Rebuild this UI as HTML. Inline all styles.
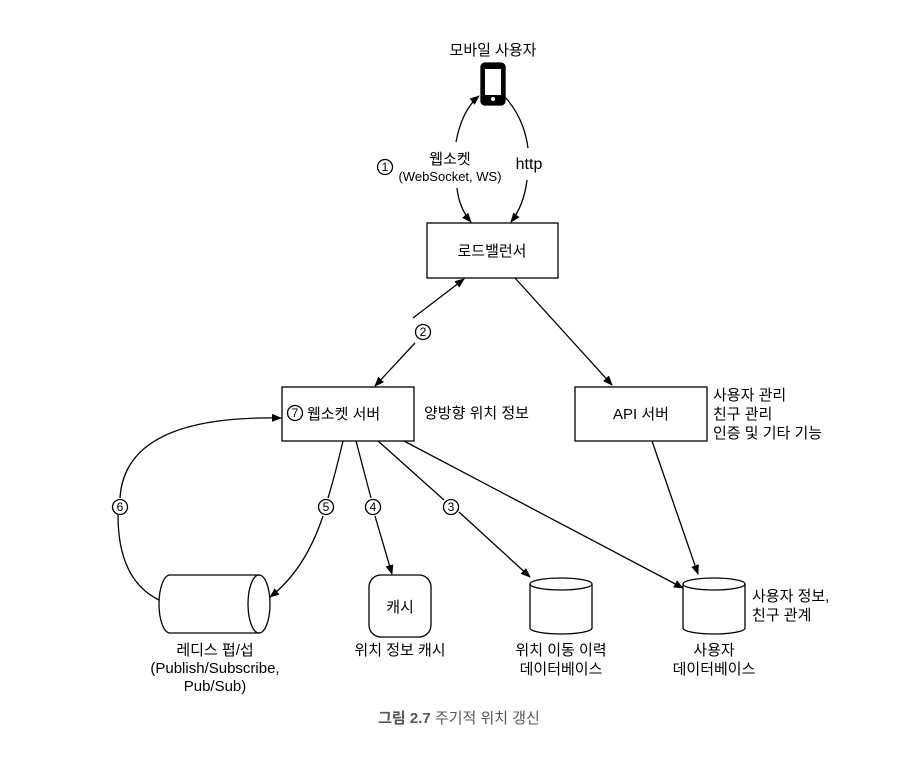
<!DOCTYPE html>
<html><head><meta charset="utf-8"><style>
body{margin:0;background:#fff}
svg text{font-family:"Liberation Sans","Noto Sans CJK KR",sans-serif;font-size:15px;fill:#000}
</style></head><body>
<svg width="918" height="754" viewBox="0 0 918 754" xmlns="http://www.w3.org/2000/svg">
<defs><marker id="a" markerWidth="10" markerHeight="10" refX="9" refY="5" orient="auto" markerUnits="userSpaceOnUse"><path d="M0,1 L10,5 L0,9 z" fill="#000"/></marker></defs>
<g fill="none" stroke="#000" stroke-width="1.3">
<rect x="481" y="63" width="24" height="42" rx="4" fill="#000"/>
<rect x="485" y="69" width="16" height="26" fill="#fff" stroke="none"/>
<circle cx="493" cy="99" r="2" fill="#fff" stroke="none"/>
<rect x="427" y="223" width="131" height="55"/>
<rect x="282" y="387" width="132" height="54"/>
<rect x="575" y="387" width="132" height="54"/>
<rect x="369" y="575" width="62" height="62" rx="12"/>
<path d="M170,575 L259,575 M170,633 L259,633 M170,575 A11,29 0 0 0 170,633"/>
<ellipse cx="259" cy="604" rx="11" ry="29"/>
<path d="M530,584 L530,628 A31,6 0 0 0 592,628 L592,584"/><ellipse cx="561" cy="584" rx="31" ry="6"/>
<path d="M683,584 L683,628 A31,6 0 0 0 745,628 L745,584"/><ellipse cx="714" cy="584" rx="31" ry="6"/>
<path d="M456,142 Q462,110 479,96" marker-end="url(#a)"/>
<path d="M457,188 Q459,208 471,222" marker-end="url(#a)"/>
<path d="M505,97 Q524,118 528,148"/>
<path d="M527,180 Q524,205 511,222" marker-end="url(#a)"/>
<path d="M413,318 L464,279" marker-end="url(#a)"/>
<path d="M415,343 L375,386" marker-end="url(#a)"/>
<path d="M515,278 L612,385" marker-end="url(#a)"/>
<path d="M159,600 Q118,580 118,515"/>
<path d="M120,498 Q125,415 281,418" marker-end="url(#a)"/>
<path d="M343,441 Q335,475 328,498"/>
<path d="M323,516 Q305,570 270,597" marker-end="url(#a)"/>
<path d="M356,441 L371,498"/>
<path d="M375,516 L392,574" marker-end="url(#a)"/>
<path d="M378,441 L444,500"/>
<path d="M459,512 L530,577" marker-end="url(#a)"/>
<path d="M404,441 L683,588" marker-end="url(#a)"/>
<path d="M652,441 L698,574" marker-end="url(#a)"/>
<circle cx="385" cy="167" r="7.5"/>
<circle cx="423" cy="332" r="7.5"/>
<circle cx="295" cy="413" r="7.5"/>
<circle cx="120" cy="507" r="7.5"/>
<circle cx="326" cy="507" r="7.5"/>
<circle cx="373" cy="507" r="7.5"/>
<circle cx="451" cy="507" r="7.5"/>
</g>
<g text-anchor="middle">
<text x="385" y="171" style="font-size:12px">1</text>
<text x="423" y="336" style="font-size:12px">2</text>
<text x="295" y="417" style="font-size:12px">7</text>
<text x="120" y="511" style="font-size:12px">6</text>
<text x="326" y="511" style="font-size:12px">5</text>
<text x="373" y="511" style="font-size:12px">4</text>
<text x="451" y="511" style="font-size:12px">3</text>
</g>
<g text-anchor="middle">
<text x="493" y="55">모바일 사용자</text>
<text x="450" y="164">웹소켓</text>
<text x="450" y="181" style="font-size:13px">(WebSocket, WS)</text>
<text x="529" y="169" style="font-size:16px">http</text>
<text x="492" y="256">로드밸런서</text>
<text x="641" y="419">API 서버</text>
<text x="400" y="612">캐시</text>
<text x="400" y="655">위치 정보 캐시</text>
<text x="215" y="655">레디스 펍/섭</text>
<text x="215" y="673">(Publish/Subscribe,</text>
<text x="215" y="691">Pub/Sub)</text>
<text x="561" y="655">위치 이동 이력</text>
<text x="561" y="674">데이터베이스</text>
<text x="714" y="655">사용자</text>
<text x="714" y="674">데이터베이스</text>
<text x="459" y="723" style="fill:#555;font-size:15px"><tspan font-weight="bold">그림 2.7</tspan> 주기적 위치 갱신</text>
</g>
<text x="307" y="419">웹소켓 서버</text>
<text x="424" y="418">양방향 위치 정보</text>
<text x="713" y="400">사용자 관리</text>
<text x="713" y="419">친구 관리</text>
<text x="713" y="438">인증 및 기타 기능</text>
<text x="752" y="601">사용자 정보,</text>
<text x="752" y="620">친구 관계</text>
</svg>
</body></html>
